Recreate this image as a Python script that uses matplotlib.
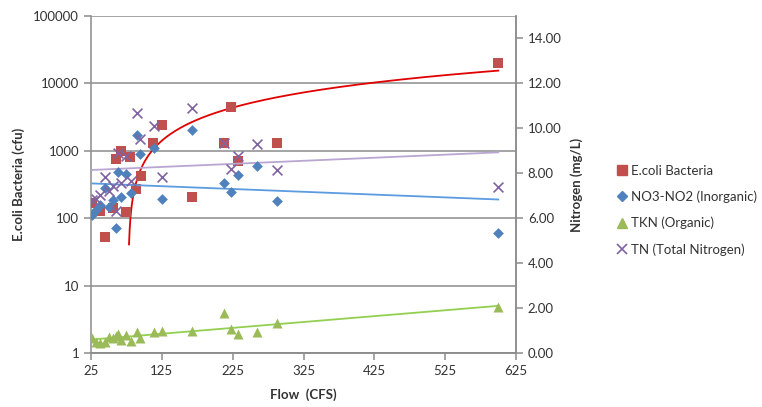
import numpy as np
import matplotlib
matplotlib.use("Agg")
import matplotlib.pyplot as plt
from matplotlib.lines import Line2D
from matplotlib.ticker import FixedLocator, NullLocator, FuncFormatter

# ── dati ─────────────────────────────────────────────────────
flow_ecoli = [27, 38, 45, 56, 60, 67, 75, 80, 89, 95, 113, 125, 167, 213, 223, 232, 288, 600]
ecoli      = [170, 130, 52, 140, 750, 1000, 125, 820, 270, 420, 1300, 2400, 205, 1300, 4500, 700, 1300, 20000]

flow_n = [27, 32, 38, 45, 50, 56, 60, 63, 68, 75, 82, 90, 94, 114, 125, 167, 213, 223, 232, 260, 288, 600]
no3    = [6.15, 6.35, 6.6, 7.35, 6.5, 6.8, 5.55, 8.05, 6.95, 7.95, 7.1, 9.72, 8.87, 9.14, 6.87, 9.94,
          7.58, 7.15, 7.94, 8.34, 6.78, 5.35]
tkn    = [0.65, 0.5, 0.45, 0.5, 0.7, 0.65, 0.75, 0.85, 0.6, 0.8, 0.55, 0.95, 0.65, 0.95, 0.98, 0.98,
          1.77, 1.05, 0.83, 0.95, 1.35, 2.05]
tn     = [6.8, 6.85, 7.05, 7.85, 7.2, 7.45, 6.3, 8.9, 7.55, 8.75, 7.65, 10.67, 9.52, 10.09, 7.85, 10.92,
          9.35, 8.2, 8.77, 9.29, 8.13, 7.4]

x_ticks     = [25, 125, 225, 325, 425, 525, 625]
left_ticks  = [1, 10, 100, 1000, 10000, 100000]
right_ticks = [0, 2, 4, 6, 8, 10, 12, 14]

labels = ["E.coli Bacteria", "NO3-NO2 (Inorganic)", "TKN (Organic)", "TN (Total Nitrogen)"]
# ────────────────────────────────────────────────────────────

FONT = "Lato"
plt.rcParams['font.family'] = [FONT, 'DejaVu Sans']
GRID = "#8c8c8c"
TXT = "#333333"

C_EC, C_NO, C_TK, C_TN = "#C0504D", "#4F81BD", "#9BBB59", "#8064A2"
L_EC, L_NO, L_TK, L_TN = "#E00000", "#5B9BE0", "#92D050", "#B9A6D2"

fig = plt.figure(figsize=(7.62, 4.07), dpi=100)
ax = fig.add_axes([91/762, 1 - 353/407, 425/762, 337/407])
ax2 = ax.twinx()


def trend(x, y):
    p = np.polyfit(x, y, 1)
    xs = np.linspace(min(x), max(x), 600)
    return xs, np.polyval(p, xs)


# E.coli (asse log a sinistra)
xs, ys = trend(flow_ecoli, ecoli)
m = ys > 27
ax.plot(xs[m], ys[m], color=L_EC, lw=1.3, zorder=3)
ax.scatter(flow_ecoli, ecoli, marker="s", s=48, color=C_EC, zorder=4, linewidths=0)

ax.set_yscale("log")
ax.set_ylim(1, 100000)
ax.set_xlim(25, 625)
ax.yaxis.set_major_locator(FixedLocator(left_ticks))
ax.yaxis.set_minor_locator(NullLocator())
ax.yaxis.set_major_formatter(FuncFormatter(lambda v, _: f"{v:.0f}"))
ax.set_xticks(x_ticks)
ax.grid(axis="y", color=GRID, lw=1.1)
ax.set_axisbelow(True)

# azoto (asse lineare a destra)
for xv, yv, col, lcol, mk, sz in [
    (flow_n, no3, C_NO, L_NO, "D", 30),
    (flow_n, tkn, C_TK, L_TK, "^", 52),
    (flow_n, tn, C_TN, L_TN, "x", 50),
]:
    xs, ys = trend(xv, yv)
    ax2.plot(xs, ys, color=lcol, lw=1.3, zorder=2)
    if mk == "x":
        ax2.scatter(xv, yv, marker=mk, s=sz, color=col, linewidths=1.2, zorder=3)
    else:
        ax2.scatter(xv, yv, marker=mk, s=sz, color=col, linewidths=0, zorder=3)

ax2.set_ylim(0, 15)
ax2.set_yticks(right_ticks)
ax2.yaxis.set_major_formatter(FuncFormatter(lambda v, _: f"{v:.2f}"))

for a in (ax, ax2):
    for s in a.spines.values():
        s.set_color(GRID)
        s.set_linewidth(1.1)
    a.spines["top"].set_visible(False)
    a.tick_params(colors=GRID, labelcolor=TXT, labelsize=9.5, length=5, width=1.1)
ax2.spines["left"].set_visible(False)

ax.set_xlabel("Flow  (CFS)", fontsize=9.5, fontweight="bold", color=TXT, labelpad=8)
ax.set_ylabel("E.coli Bacteria (cfu)", fontsize=9.5, fontweight="bold", color=TXT, labelpad=6)
ax2.set_ylabel("Nitrogen (mg/L)", fontsize=9.5, fontweight="bold", color=TXT, labelpad=6)

handles = [
    Line2D([], [], marker="s", ls="", color=C_EC, markersize=7),
    Line2D([], [], marker="D", ls="", color=C_NO, markersize=5.5),
    Line2D([], [], marker="^", ls="", color=C_TK, markersize=7.5),
    Line2D([], [], marker="x", ls="", color=C_TN, markersize=7, markeredgewidth=1.2),
]
fig.legend(handles, labels, loc="upper left", bbox_to_anchor=(607/762, 1 - 158/407),
           frameon=False, fontsize=9.5, handletextpad=0.1, handlelength=1.2,
           labelspacing=1.05, borderpad=0, labelcolor=TXT)

fig.savefig("out.png", dpi=100)
